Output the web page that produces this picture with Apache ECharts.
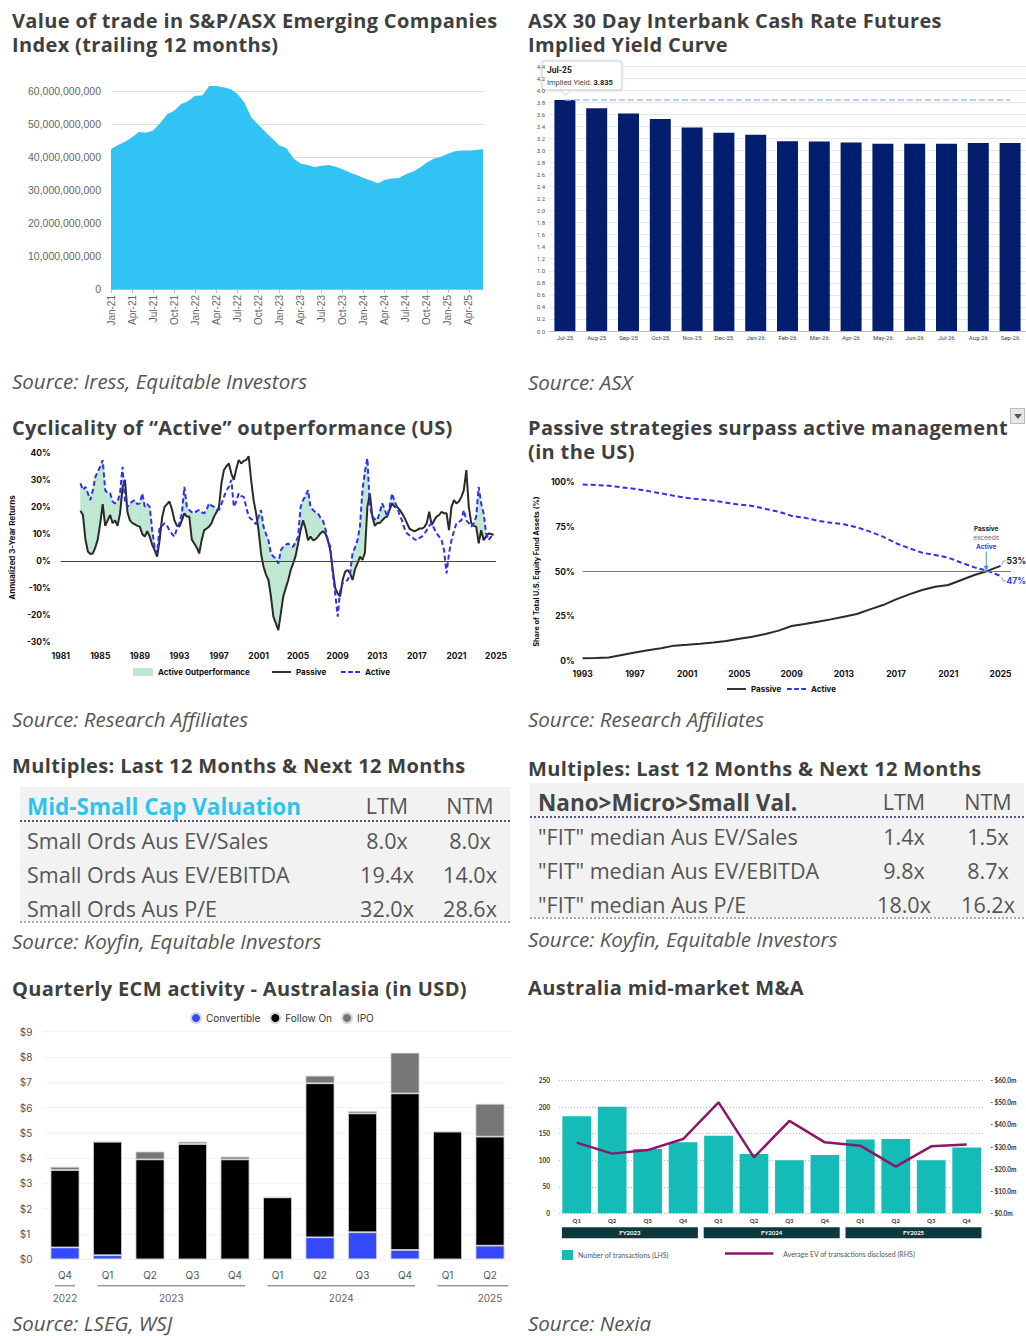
<!DOCTYPE html>
<html><head><meta charset="utf-8">
<script src="https://cdn.jsdelivr.net/npm/echarts@6/dist/echarts.min.js"></script>
<style>
body{margin:0;width:1026px;height:1336px;position:relative;background:#fff;overflow:hidden;font-family:'Open Sans',sans-serif;}
.tx{position:absolute;white-space:nowrap;transform:translateY(-50%);line-height:normal;}
.title{font-family:'Open Sans';font-weight:700;font-size:20px;line-height:24px;color:#3f3f3f;letter-spacing:0.35px;white-space:pre;}
.src{font-style:italic;font-size:20.5px;line-height:1.1;color:#555;}
.cell{font-size:21.5px;line-height:1.2;color:#555;}
.c{position:absolute;}
.bg{position:absolute;background:#f2f2f2;}
.dot{position:absolute;height:0;}
</style></head><body>
<div id="c1" class="c" style="left:0;top:60px;width:510px;height:280px"></div>
<div id="c2" class="c" style="left:525px;top:55px;width:501px;height:290px"></div>
<div id="c3" class="c" style="left:0;top:440px;width:515px;height:250px"></div>
<div id="c4" class="c" style="left:525px;top:470px;width:501px;height:235px"></div>
<div id="c5" class="c" style="left:0;top:1000px;width:515px;height:310px"></div>
<div id="c6" class="c" style="left:525px;top:1060px;width:501px;height:210px"></div>
<div style="position:absolute;left:1010px;top:408px;width:15px;height:16px;background:#e6e6e6;border:1px solid #bbb;box-sizing:border-box"><div style="position:absolute;left:3px;top:5px;width:0;height:0;border-left:4px solid transparent;border-right:4px solid transparent;border-top:5px solid #555"></div></div>
<script>
// ---------- DATA ----------
const monthNames = ['Jan','Feb','Mar','Apr','May','Jun','Jul','Aug','Sep','Oct','Nov','Dec'];
const tradeMonths = [];
for (let y = 21; y <= 25; y++) for (let m = 0; m < 12; m++) { if (y === 25 && m > 5) break; tradeMonths.push(monthNames[m] + '-' + y); }
// value of trade, billions AUD
const tradeValues = [42.5,43.7,44.7,46.0,47.7,47.4,48.1,50.3,53.0,54.1,56.1,57.0,
  58.6,58.7,61.6,61.6,61.2,60.7,59.2,56.6,52.0,49.8,47.6,45.6,
  43.5,42.7,39.6,38.1,37.6,37.0,37.4,37.6,37.1,36.3,35.3,34.6,
  33.7,32.9,32.1,33.1,33.5,33.7,34.8,35.6,36.8,38.4,39.5,40.1,
  41.0,41.8,42.0,42.0,42.2,42.5];

const yieldMonths = ['Jul-25','Aug-25','Sep-25','Oct-25','Nov-25','Dec-25','Jan-26','Feb-26','Mar-26','Apr-26','May-26','Jun-26','Jul-26','Aug-26','Sep-26'];
const impliedYield = [3.835,3.70,3.61,3.52,3.38,3.29,3.26,3.15,3.145,3.13,3.11,3.11,3.11,3.12,3.12];

const cycYears = [];
for (let i = 0; i < 168; i++) cycYears.push(1983 + i * 0.25);
const passiveRet = [
 18.6,17,8,3.5, 2.6,2.8,5,8, 14,21,13,15, 17,14,15,13, 17.6,27,30,18,
 15,14,13.5,13, 12.7,10,9,11, 9,6,4,1.6, 7.7,16,20,21, 22,19,15,13,
 12.7,15,17.6,16.4, 16.4,8,6.5,5, 2.8,7.7,11.4,12, 12.7,14,16.4,18, 20,28.7,33.6,35,
 36,32.3,30,34, 37.3,36,37,37.3, 38.7,30,22.5,17.6, 11.4,2.8,-2,-5, -7,-13,-20.5,-23,
 -25.5,-19.3,-13,-10, -7,-3.3,-0.9,2, 6.5,11.4,15,12, 7.7,9,7.7,8, 9,10.2,11,10.2,
 7.7,4,-3.3,-10, -12,-13,-7,-4, -3.3,-4.6,-7,-3, -0.9,1.6,0.4,3, 20,25,16.4,13,
 14,14,15,16, 16.4,19,21.3,20, 20,19,17.6,16, 14,12,11.4,11, 11.4,12,12,12.5,
 14,18.2,13.3,15, 16.4,17,18.2,17.6, 17.6,11.4,20,22.5, 21.3,22,23.7,26.2, 33.6,20,14,13,
 12.7,6.5,11.4,7.7, 9,10.2,10,9.6];
const activeRet = [
 28.7,26.2,27.4,25, 22.5,26.2,31,33, 34.8,37.3,26.2,25, 25,22,21.3,22, 25,34.8,22,20,
 21.3,22,22.5,21, 21.3,25,20,21, 20,11.4,5,2.8, 12.7,13,14,13, 11.4,10,9,12,
 14,17.6,27.4,20, 18.8,18,17.6,18.5, 18.8,18,17.6,19, 21.3,20.5,20,19, 18.8,21,23.7,26,
 27.4,30,20,22, 25,24,23.7,20, 16.4,15.5,15,13.5, 16.4,18.8,12.7,10, 7.7,2.8,1.6,1,
 -0.9,4,5.3,6, 6.5,5.5,5.3,7, 9,20,22.5,24, 26.2,20,18.8,18, 17.6,16,15,12,
 7.7,5.3,-4.6,-12, -20.5,-10.7,-8.2,-7.5, -7,-4.6,2.8,5, 7.7,12.7,26.2,33, 37.9,20,16.4,15.5,
 15,18,21.3,19, 16.4,20,25,22, 20,17,15,12, 10.2,9.5,9,8, 7.7,8.5,9,10,
 11.4,13,14,12, 10.2,9,7.7,4, -4.6,2.8,7.7,11, 14,14.5,15,18.8, 15,14,12.7,14,
 16.4,27.4,21.3,17.6, 10.2,7.7,9,9];

const shareYears = [1993,1994,1995,1996,1997,1998,1999,2000,2001,2002,2003,2004,2005,2006,2007,2008,2009,2010,2011,2012,2013,2014,2015,2016,2017,2018,2019,2020,2021,2022,2023,2024,2025];
const passiveShare = [1.5,1.7,2,3.4,4.7,6,7.1,8.6,9.1,9.7,10.4,11.2,12.5,13.6,15.1,17,19.6,20.7,22,23.3,24.8,26.3,28.9,31.3,34.5,37.3,39.7,41.6,42.5,45.3,48.1,50.4,53.2];
const activeShare = [98.7,98.5,98.1,97.2,96.3,95.1,93.8,92.4,91.2,90.5,89.7,88.6,87.5,86.8,85.1,83.6,81.2,80.2,78.5,77.4,76.5,74.8,72.4,69.6,65.9,63.1,60.6,59.3,57.8,55,52.4,50.4,47.6];

const leftTableHead = ['Mid-Small Cap Valuation','LTM','NTM'];
const leftTableRows = ['Small Ords Aus EV/Sales','Small Ords Aus EV/EBITDA','Small Ords Aus P/E'];
const leftLTM = ['8.0x','19.4x','32.0x'];
const leftNTM = ['8.0x','14.0x','28.6x'];
const rightTableHead = ['Nano>Micro>Small Val.','LTM','NTM'];
const rightTableRows = ['"FIT" median Aus EV/Sales','"FIT" median Aus EV/EBITDA','"FIT" median Aus P/E'];
const rightLTM = ['1.4x','9.8x','18.0x'];
const rightNTM = ['1.5x','8.7x','16.2x'];

const ecmQuarters = ['Q4','Q1','Q2','Q3','Q4','Q1','Q2','Q3','Q4','Q1','Q2'];
const ecmConvertible = [0.47,0.16,0,0,0,0,0.87,1.07,0.37,0,0.54];
const ecmFollowOn = [3.06,4.49,3.95,4.56,3.95,2.45,6.09,4.70,6.19,5.05,4.31];
const ecmIPO = [0.13,0,0.31,0.09,0.11,0,0.30,0.09,1.61,0,1.30];
const ecmYearGroups = [{y:'2022',a:0,b:0,at:0},{y:'2023',a:1,b:4,at:2.5},{y:'2024',a:5,b:8,at:6.5},{y:'2025',a:9,b:10,at:10}];

const maQuarters = ['Q1','Q2','Q3','Q4','Q1','Q2','Q3','Q4','Q1','Q2','Q3','Q4'];
const maFY = ['FY2023','FY2024','FY2025'];
const maCount = [183,201,121,134,146,112,100,110,139,140,100,124];
const maAvgEV = [32.0,27.0,28.6,33.6,50.2,25.3,41.8,32.1,30.6,21.1,30.3,31.1];

// legend icon paths
const ICON_LINE = 'path://M0,0H20V2H0Z';
const ICON_DASH = 'path://M0,0H5V2H0Z M7.5,0H12.5V2H7.5Z M15,0H20V2H15Z';

// ---------- HTML TEXT ----------
function txt(t, x, cy, cls, extra) {
  const d = document.createElement('div');
  d.className = 'tx ' + cls; d.textContent = t;
  d.style.left = x + 'px'; d.style.top = cy + 'px';
  if (extra) Object.assign(d.style, extra);
  document.body.appendChild(d); return d;
}
function ctxt(t, cx, cy, cls, extra) {
  const d = txt(t, cx, cy, cls, extra);
  d.style.transform = 'translate(-50%,-50%)'; return d;
}
// title block: one element, lines 24px apart; cy = centre of the first line
function title(lines, x, cy) {
  const d = document.createElement('div');
  d.className = 'title'; d.textContent = lines.join('\n');
  Object.assign(d.style, {position:'absolute', left:x + 'px', top:(cy - 12) + 'px'});
  document.body.appendChild(d); return d;
}
title(['Value of trade in S&P/ASX Emerging Companies', 'Index (trailing 12 months)'], 12, 21);
title(['ASX 30 Day Interbank Cash Rate Futures', 'Implied Yield Curve'], 528, 21);
txt('Source: Iress, Equitable Investors', 12, 381, 'src');
txt('Source: ASX', 528, 382, 'src');
title(['Cyclicality of \u201cActive\u201d outperformance (US)'], 12, 428);
title(['Passive strategies surpass active management', '(in the US)'], 528, 428);
txt('Source: Research Affiliates', 12, 719, 'src');
txt('Source: Research Affiliates', 528, 719, 'src');
title(['Multiples: Last 12 Months & Next 12 Months'], 12, 766);
title(['Multiples: Last 12 Months & Next 12 Months'], 528, 769);
txt('Source: Koyfin, Equitable Investors', 12, 941, 'src');
txt('Source: Koyfin, Equitable Investors', 528, 939, 'src');
title(['Quarterly ECM activity - Australasia (in USD)'], 12, 989);
title(['Australia mid-market M&A'], 528, 988);
txt('Source: LSEG, WSJ', 12, 1323, 'src');
txt('Source: Nexia', 528, 1323, 'src');

function table(o) {
  const bg = document.createElement('div'); bg.className = 'bg';
  Object.assign(bg.style, {left:o.x+'px', top:o.top+'px', width:o.w+'px', height:o.h+'px'});
  document.body.appendChild(bg);
  txt(o.head[0], o.tx, o.headY, 'cell', {fontWeight:'700', fontSize:'22.5px', color:o.headColor});
  ctxt(o.head[1], o.c1, o.headY, 'cell');
  ctxt(o.head[2], o.c2, o.headY, 'cell');
  const l1 = document.createElement('div'); l1.className = 'dot';
  Object.assign(l1.style, {left:o.x+'px', top:o.line1+'px', width:o.w+'px', borderTop:'2px dotted #4f5b78'});
  document.body.appendChild(l1);
  o.rows.forEach((r, i) => {
    const cy = o.rowY[i];
    txt(r, o.tx, cy, 'cell');
    ctxt(o.ltm[i], o.c1, cy, 'cell');
    ctxt(o.ntm[i], o.c2, cy, 'cell');
  });
  const l2 = document.createElement('div'); l2.className = 'dot';
  Object.assign(l2.style, {left:o.x+'px', top:o.line2+'px', width:o.w+'px', borderTop:'2px dotted #aaa'});
  document.body.appendChild(l2);
}
table({x:20, top:787, w:490, h:134, tx:27, headY:806, c1:387, c2:470, line1:820, line2:921,
  head:leftTableHead, headColor:'#2fc3f0', rows:leftTableRows, ltm:leftLTM, ntm:leftNTM, rowY:[841,875,909]});
table({x:530, top:783, w:494, h:134, tx:538, headY:802, c1:904, c2:988, line1:816, line2:917,
  head:rightTableHead, headColor:'#454545', rows:rightTableRows, ltm:rightLTM, ntm:rightNTM, rowY:[837,871,905]});

// ---------- CHART 1 ----------
const c1 = echarts.init(document.getElementById('c1'), null, {renderer:'svg'});
c1.setOption({
  animation:false,
  grid:{left:111, top:24.6, width:372, height:204.4},
  xAxis:{type:'category', data:tradeMonths, boundaryGap:false,
    axisLine:{lineStyle:{color:'#bbb'}}, axisTick:{interval:2, length:4, lineStyle:{color:'#bbb'}},
    axisLabel:{interval:2, rotate:90, color:'#666', fontSize:10, fontFamily:'Liberation Sans', margin:6}},
  yAxis:{type:'value', min:0, max:62, interval:10,
    axisLabel:{formatter:v => (v % 10) ? '' : (v * 1e9).toLocaleString('en-US'), color:'#666', fontSize:10.5, fontFamily:'Liberation Sans', margin:10, showMaxLabel:false},
    splitLine:{lineStyle:{color:'#ddd'}, showMaxLine:false}, axisLine:{show:false}, axisTick:{show:false}},
  series:[{type:'line', data:tradeValues, symbol:'none', lineStyle:{width:0}, areaStyle:{color:'#30c3f3', opacity:1}}]
});

// ---------- CHART 2 ----------
const c2 = echarts.init(document.getElementById('c2'), null, {renderer:'svg'});
c2.setOption({
  animation:false,
  grid:{left:24, top:11, width:477, height:265},
  xAxis:{type:'category', data:yieldMonths, axisLine:{lineStyle:{color:'#bbb'}}, axisTick:{show:false},
    axisLabel:{color:'#444', fontSize:6, fontFamily:'Roboto', margin:3, interval:0}},
  yAxis:{type:'value', min:0, max:4.4, interval:0.2,
    axisLabel:{formatter:v => v.toFixed(1), color:'#555', fontSize:6, fontFamily:'Roboto', margin:4},
    splitLine:{lineStyle:{color:'#e8e8e8'}}, axisLine:{show:false}, axisTick:{show:false}},
  series:[{type:'bar', data:impliedYield, barWidth:'66%', itemStyle:{color:'#021e6c'},
    markLine:{silent:true, symbol:'none', label:{show:false}, lineStyle:{color:'#9fbcf3', type:'dashed', width:1.5},
      data:[[{coord:[0, impliedYield[0]]}, {coord:[14.45, impliedYield[0]]}]]}}]
});
(function(){
  const p = c2.convertToPixel({seriesIndex:0}, [0, impliedYield[0]]);
  const bx = p[0] - 23, by = p[1] - 39;
  c2.setOption({graphic:[{type:'group', z:100, children:[
    {type:'rect', shape:{x:bx, y:by, width:80, height:29, r:3}, style:{fill:'#fff', stroke:'#cfcfcf', lineWidth:1, shadowBlur:3, shadowColor:'rgba(0,0,0,0.15)'}},
    {type:'polygon', shape:{points:[[p[0]-4, by+29], [p[0]+6, by+29], [p[0]+1, by+34]]}, style:{fill:'#fff', stroke:'#cfcfcf'}},
    {type:'text', x:bx+5, y:by+9, style:{text:yieldMonths[0], font:'bold 8.5px Roboto', fill:'#222', verticalAlign:'middle'}},
    {type:'text', x:bx+5, y:by+21, style:{text:'{n|Implied Yield: }{b|' + impliedYield[0].toFixed(3) + '}', verticalAlign:'middle',
      rich:{n:{font:'7.5px Roboto', fill:'#444'}, b:{font:'bold 7.5px Roboto', fill:'#222'}}}}
  ]}]});
})();

// ---------- CHART 3 ----------
const c3 = echarts.init(document.getElementById('c3'), null, {renderer:'svg'});
const boldF = {fontFamily:'Inter', fontWeight:'bold', color:'#111'};
const FILL_GREEN = '#bfe8d2';
const cycSegments = cycYears.slice(0, -1).map((y, i) => [y, cycYears[i + 1], passiveRet[i], activeRet[i], passiveRet[i + 1], activeRet[i + 1]]);
const legendText = {fontSize:8, ...boldF};
c3.setOption({
  animation:false,
  grid:{left:60, top:12.7, width:436, height:189.6},
  legend:[
    {top:228, left:133, padding:0, itemWidth:20, itemHeight:8, textStyle:legendText, data:[{name:'Active Outperformance', icon:'rect', itemStyle:{color:FILL_GREEN}}]},
    {top:228, left:272, padding:0, itemWidth:19, itemHeight:2, textStyle:legendText, data:[{name:'Passive', icon:ICON_LINE}]},
    {top:228, left:341, padding:0, itemWidth:19, itemHeight:2, textStyle:legendText, data:[{name:'Active', icon:ICON_DASH}]}
  ],
  xAxis:{type:'value', min:1981, max:2025, interval:4, axisLine:{show:false}, axisTick:{show:false}, splitLine:{show:false},
    axisLabel:{fontSize:8.5, margin:9, formatter:v => String(v), ...boldF}},
  yAxis:{type:'value', min:-30, max:40, interval:10, axisLine:{show:false}, axisTick:{show:false}, splitLine:{show:false},
    axisLabel:{formatter:'{value}%', fontSize:8.5, margin:10, ...boldF},
    name:'Annualized 3-Year Returns', nameLocation:'middle', nameRotate:90, nameGap:37, nameTextStyle:{fontSize:8, ...boldF}},
  series:[
    {name:'Active Outperformance', type:'custom', data:cycSegments, encode:{x:[0,1], y:[2,3,4,5]}, itemStyle:{color:FILL_GREEN}, z:1,
      renderItem:function(params, api){
        const x0 = api.value(0), x1 = api.value(1), p0 = api.value(2), a0 = api.value(3), p1 = api.value(4), a1 = api.value(5);
        const d0 = a0 - p0, d1 = a1 - p1;
        let pts = null;
        if (d0 >= 0 && d1 >= 0) pts = [[x0,a0],[x1,a1],[x1,p1],[x0,p0]];
        else if (d0 > 0 || d1 > 0) {
          const t = d0 / (d0 - d1), xc = x0 + t * (x1 - x0), yc = p0 + t * (p1 - p0);
          pts = d0 > 0 ? [[x0,a0],[xc,yc],[x0,p0]] : [[xc,yc],[x1,a1],[x1,p1]];
        }
        if (!pts) return {type:'group', children:[]};
        return {type:'polygon', shape:{points:pts.map(q => api.coord(q))}, style:{fill:FILL_GREEN, stroke:FILL_GREEN, lineWidth:0.6}};
      },
      markLine:{silent:true, symbol:'none', label:{show:false}, lineStyle:{color:'#444', width:1, type:'solid'}, data:[{yAxis:0}]}},
    {name:'Passive', type:'line', z:3, data:cycYears.map((y, i) => [y, passiveRet[i]]), symbol:'none', lineStyle:{color:'#2a2a2a', width:2}, itemStyle:{color:'#2a2a2a'}},
    {name:'Active', type:'line', z:4, data:cycYears.map((y, i) => [y, activeRet[i]]), symbol:'none', lineStyle:{color:'#3030f0', width:2, type:[5,3]}, itemStyle:{color:'#3030f0'}}
  ]
});

// ---------- CHART 4 ----------
const c4 = echarts.init(document.getElementById('c4'), null, {renderer:'svg'});
c4.setOption({
  animation:false,
  grid:{left:53, top:12.3, width:433, height:178.7},
  legend:[
    {top:215, left:202, padding:0, itemWidth:19, itemHeight:2, textStyle:legendText, data:[{name:'Passive', icon:ICON_LINE}]},
    {top:215, left:262, padding:0, itemWidth:19, itemHeight:2, textStyle:legendText, data:[{name:'Active', icon:ICON_DASH}]}
  ],
  xAxis:{type:'value', min:1993, max:2025.8, interval:4, axisLine:{show:false}, axisTick:{show:false}, splitLine:{show:false},
    axisLabel:{fontSize:8.5, margin:8, formatter:v => ((v - 1993) % 4 === 0) ? String(v) : '', ...boldF}},
  yAxis:{type:'value', min:0, max:100, interval:25, axisLine:{show:false}, axisTick:{show:false}, splitLine:{show:false},
    axisLabel:{formatter:'{value}%', fontSize:8.5, margin:8, ...boldF},
    name:'Share of Total U.S. Equity Fund Assets (%)', nameLocation:'middle', nameRotate:90, nameGap:39, nameTextStyle:{fontSize:7.3, ...boldF}},
  series:[
    {name:'Passive', type:'line', data:shareYears.map((y, i) => [y, passiveShare[i]]), symbol:'none', lineStyle:{color:'#2a2a2a', width:2}, itemStyle:{color:'#2a2a2a'},
      markLine:{silent:true, symbol:'none', label:{show:false}, lineStyle:{color:'#777', width:1, type:'solid'}, data:[{yAxis:50}]}},
    {name:'Active', type:'line', data:shareYears.map((y, i) => [y, activeShare[i]]), symbol:'none', lineStyle:{color:'#3030f0', width:2, type:[5,3]}, itemStyle:{color:'#3030f0'}}
  ]
});
(function(){
  const n = shareYears.length - 1;
  const pe = c4.convertToPixel({seriesIndex:0}, [shareYears[n], passiveShare[n]]);
  const ae = c4.convertToPixel({seriesIndex:1}, [shareYears[n], activeShare[n]]);
  const cross = c4.convertToPixel({seriesIndex:0}, [2023.9, 50]);
  const ax = cross[0];
  c4.setOption({graphic:[
    {type:'text', x:ax, y:cross[1]-43, style:{text:'Passive', font:'bold 6.5px Inter', fill:'#222', align:'center', verticalAlign:'middle'}},
    {type:'text', x:ax, y:cross[1]-34, style:{text:'exceeds', font:'6.5px Inter', fill:'#666', align:'center', verticalAlign:'middle'}},
    {type:'text', x:ax, y:cross[1]-25, style:{text:'Active', font:'bold 6.5px Inter', fill:'#2e3cf5', align:'center', verticalAlign:'middle'}},
    {type:'line', shape:{x1:ax, y1:cross[1]-20, x2:ax, y2:cross[1]-3}, style:{stroke:'#3d8ff0', lineWidth:1}},
    {type:'polygon', shape:{points:[[ax-2.5, cross[1]-6], [ax+2.5, cross[1]-6], [ax, cross[1]-1]]}, style:{fill:'#3d8ff0'}},
    {type:'polyline', shape:{points:[[pe[0]+1, pe[1]-1], [pe[0]+3, pe[1]-5], [pe[0]+6, pe[1]-5]]}, style:{stroke:'#888', lineWidth:0.8, fill:null}},
    {type:'polyline', shape:{points:[[ae[0]+1, ae[1]+1], [ae[0]+3, ae[1]+5], [ae[0]+6, ae[1]+5]]}, style:{stroke:'#888', lineWidth:0.8, fill:null}},
    {type:'text', x:pe[0]+6, y:pe[1]-5, style:{text:'53%', font:'bold 8.5px Inter', fill:'#222', verticalAlign:'middle'}},
    {type:'text', x:ae[0]+6, y:ae[1]+5, style:{text:'47%', font:'bold 8.5px Inter', fill:'#2e3cf5', verticalAlign:'middle'}}
  ]});
})();

// ---------- CHART 5 ----------
const c5 = echarts.init(document.getElementById('c5'), null, {renderer:'svg'});
const ecmF = {fontFamily:'Inter', color:'#555'};
const segBorder = {borderColor:'#d8d8d8', borderWidth:0.8};
c5.setOption({
  animation:false,
  grid:{left:43.75, top:31.7, width:467.5, height:227.6},
  legend:{top:12, left:190, padding:0, itemWidth:10, itemHeight:10, itemGap:9, icon:'circle', textStyle:{fontSize:10, fontFamily:'Inter', color:'#333'},
    data:['Convertible','Follow On','IPO']},
  xAxis:{type:'category', data:ecmQuarters, axisLine:{show:false}, axisTick:{show:false},
    axisLabel:{fontSize:10, margin:11, interval:0, ...ecmF}},
  yAxis:{type:'value', min:0, max:9, interval:1, axisLine:{show:false}, axisTick:{show:false},
    splitLine:{lineStyle:{color:'#f3f3f3'}},
    axisLabel:{formatter:'${value}', fontSize:10, align:'left', margin:24, ...ecmF}},
  series:[
    {name:'Convertible', type:'bar', stack:'e', data:ecmConvertible, barWidth:'68%', itemStyle:{color:'#3349fb', ...segBorder}},
    {name:'Follow On', type:'bar', stack:'e', data:ecmFollowOn, itemStyle:{color:'#000', ...segBorder}},
    {name:'IPO', type:'bar', stack:'e', data:ecmIPO, itemStyle:{color:'#777', ...segBorder}}
  ]
});
(function(){
  const g = [];
  const px = i => c5.convertToPixel({xAxisIndex:0}, i);
  ecmYearGroups.forEach(o => {
    const xa = px(o.a) - 10;
    const xb = px(o.b) + (o.b === ecmQuarters.length - 1 ? 18 : 10);
    const xc = (o.at % 1) ? (px(Math.floor(o.at)) + px(Math.ceil(o.at))) / 2 : px(o.at);
    g.push({type:'line', shape:{x1:xa, y1:285.7, x2:xb, y2:285.7}, style:{stroke:'#999', lineWidth:1.5}});
    g.push({type:'text', x:xc, y:298, style:{text:o.y, font:'10px Inter', fill:'#666', align:'center', verticalAlign:'middle'}});
  });
  c5.setOption({graphic:g});
})();

// ---------- CHART 6 ----------
const c6 = echarts.init(document.getElementById('c6'), null, {renderer:'svg'});
const maF = {fontFamily:'Lato', fontWeight:'bold', color:'#333'};
c6.setOption({
  animation:false,
  grid:{left:34, top:20.7, width:425.4, height:132.6},
  legend:[
    {top:190, left:37, padding:0, itemWidth:11, itemHeight:10, textStyle:{fontSize:7, fontFamily:'Lato', color:'#555'}, data:[{name:'Number of transactions (LHS)', icon:'rect'}]},
    {top:190, left:200, padding:0, itemWidth:58, itemHeight:2.5, textStyle:{fontSize:7, fontFamily:'Lato', color:'#555'}, data:[{name:'Average EV of transactions disclosed (RHS)', icon:'path://M0,0H58V3H0Z'}]}
  ],
  xAxis:[
    {type:'category', data:maQuarters, axisLine:{show:false}, axisTick:{show:false}, axisLabel:{fontSize:6, margin:4, interval:0, ...maF}},
    {type:'category', data:maFY, position:'bottom', axisLine:{show:false}, axisTick:{show:false}, splitLine:{show:false},
      axisLabel:{interval:0, margin:14, backgroundColor:'#0c393d', color:'#fff', fontSize:6, fontWeight:'bold', fontFamily:'Lato',
        width:136, height:11, lineHeight:11, align:'center', verticalAlign:'top'}}
  ],
  yAxis:[
    {type:'value', min:0, max:250, interval:50, axisLine:{show:false}, axisTick:{show:false},
      splitLine:{lineStyle:{color:'#bbb', type:[1,2]}}, axisLabel:{fontSize:6.5, margin:9, ...maF}},
    {type:'value', min:0, max:60, interval:10, axisLine:{show:false}, axisTick:{show:false}, splitLine:{show:false},
      axisLabel:{formatter:v => '- $' + v.toFixed(1) + 'm', fontSize:6.5, margin:6, ...maF}}
  ],
  series:[
    {name:'Number of transactions (LHS)', type:'bar', data:maCount, barWidth:'81%', itemStyle:{color:'#15bcb7'}},
    {name:'Average EV of transactions disclosed (RHS)', type:'line', yAxisIndex:1, data:maAvgEV, symbol:'none', lineStyle:{color:'#8b1768', width:2.5}, itemStyle:{color:'#8b1768'}}
  ]
});
</script>
</body></html>
